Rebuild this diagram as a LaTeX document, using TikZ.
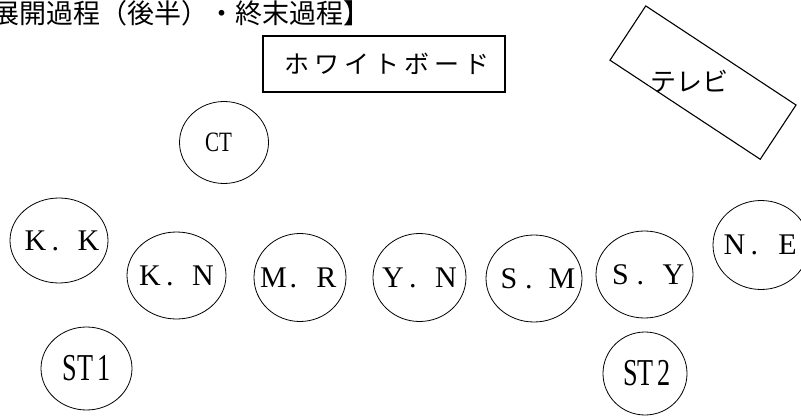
\documentclass[tikz,border=0pt]{standalone}
\usepackage{fontspec}
\usepackage{graphicx}
\usetikzlibrary{shapes.geometric}
\setmainfont{Liberation Serif}
\newfontfamily\jp{Noto Sans CJK JP}
\newfontfamily\jpwide[LetterSpace=20]{Noto Sans CJK JP}
\newcommand{\pname}[2]{\fontsize{30}{30}\selectfont\makebox[26.5pt]{#1}\makebox[26.5pt][l]{\hspace{3pt}.}\makebox[26.5pt]{#2}}
\tikzset{
  seat/.style={draw, ellipse, line width=0.8pt, inner sep=0pt},
  board/.style={draw, line width=2pt, minimum width=242pt, minimum height=56pt, inner sep=0pt},
  tvbox/.style={draw, line width=1.1pt, minimum width=180pt, minimum height=65pt, inner sep=0pt, rotate=-33.4},
}
\begin{document}
\begin{tikzpicture}[x=1pt,y=1pt]
\useasboundingbox (0,0) rectangle (801,416);
\node[anchor=east, inner sep=0pt] (title) at (371,403) {\jp\fontsize{27}{27}\selectfont 展開過程（後半）・終末過程】};
\node[board] (wb) at (384,352) {\jpwide\fontsize{25}{25}\selectfont \hspace*{5pt}ホワイトボード};
\node[tvbox] (tv) at (703,333.4) {};
\node[inner sep=0pt] (tvlabel) at (689,335) {\jp\fontsize{26}{26}\selectfont テレビ};
\node[seat, minimum width=89pt, minimum height=82pt] (ct) at (224,273.5) {\makebox[0pt]{\fontsize{28}{28}\selectfont\hspace*{-11pt}\scalebox{0.75}[1]{CT}}};
\node[seat, minimum width=98pt, minimum height=85pt] (kk) at (59,175.5) {\makebox[0pt]{\raisebox{-3pt}{\hspace*{6pt}\pname{K}{K}}}};
\node[seat, minimum width=99pt, minimum height=87pt] (kn) at (176.5,140.5) {\makebox[0pt]{\pname{K}{N}}};
\node[seat, minimum width=92pt, minimum height=88pt] (mr) at (300,138.5) {\makebox[0pt]{\pname{M}{R}}};
\node[seat, minimum width=93pt, minimum height=88pt] (yn) at (419.5,138.5) {\makebox[0pt]{\pname{Y}{N}}};
\node[seat, minimum width=96pt, minimum height=87pt] (sm) at (534,137.5) {\makebox[0pt]{\hspace*{3pt}\pname{S}{M}}};
\node[seat, minimum width=97pt, minimum height=87pt] (sy) at (644.5,141.5) {\makebox[0pt]{\hspace*{5pt}\pname{S}{Y}}};
\node[seat, minimum width=96pt, minimum height=89pt] (ne) at (761,171) {\makebox[0pt]{\pname{N}{E}}};
\node[seat, minimum width=91pt, minimum height=83pt] (st1) at (86.5,47.5) {\makebox[0pt]{\fontsize{38}{38}\selectfont\scalebox{0.69}[1]{ST\hspace{6pt}1}}};
\node[seat, minimum width=84pt, minimum height=83pt] (st2) at (645,42.5) {\makebox[0pt]{\fontsize{38}{38}\selectfont\hspace*{4pt}\scalebox{0.69}[1]{ST\hspace{6pt}2}}};
\end{tikzpicture}
\end{document}
